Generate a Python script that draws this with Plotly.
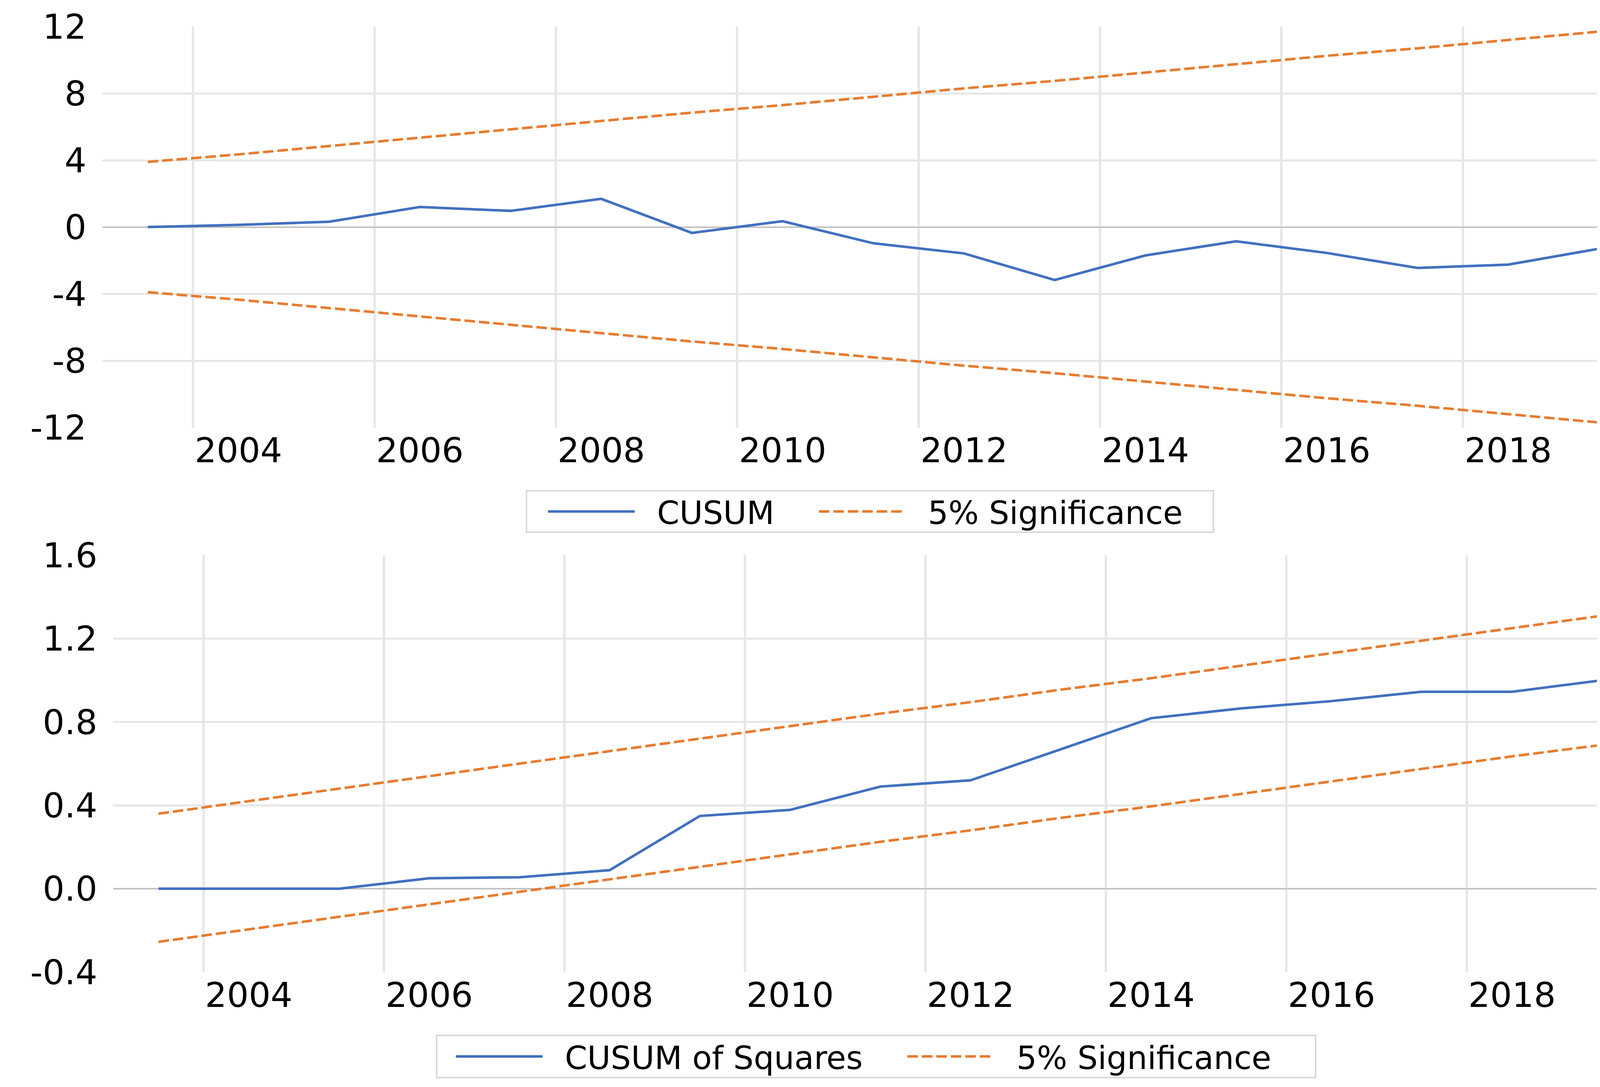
import plotly.graph_objects as go

# ---------------- data ----------------
years = list(range(2003, 2020))

cusum = [0.0, 0.13, 0.32, 1.2, 0.97, 1.69, -0.35, 0.35, -0.97, -1.58,
         -3.17, -1.70, -0.85, -1.55, -2.45, -2.25, -1.30]
cusum_upper = [3.9, 4.35, 4.85, 5.35, 5.85, 6.35, 6.85, 7.3, 7.8, 8.3,
               8.75, 9.25, 9.75, 10.25, 10.7, 11.2, 11.7]
cusum_lower = [-3.9, -4.35, -4.85, -5.35, -5.85, -6.35, -6.85, -7.3, -7.8, -8.3,
               -8.75, -9.25, -9.75, -10.25, -10.7, -11.2, -11.7]

cusumsq = [0.0, 0.0, 0.0, 0.05, 0.055, 0.089, 0.349, 0.378, 0.49, 0.52,
           0.669, 0.818, 0.865, 0.90, 0.945, 0.945, 1.0]
cusumsq_upper = [0.36, 0.42, 0.48, 0.54, 0.60, 0.66, 0.72, 0.78, 0.84, 0.895,
                 0.955, 1.01, 1.07, 1.13, 1.19, 1.25, 1.31]
cusumsq_lower = [-0.255, -0.195, -0.135, -0.075, -0.015, 0.045, 0.105, 0.165, 0.225, 0.28,
                 0.34, 0.395, 0.455, 0.515, 0.575, 0.635, 0.69]

x_tick_vals = [2004, 2006, 2008, 2010, 2012, 2014, 2016, 2018]
x_tick_text = ["2004", "2006", "2008", "2010", "2012", "2014", "2016", "2018"]
x_grid_vals = [2003.5, 2005.5, 2007.5, 2009.5, 2011.5, 2013.5, 2015.5, 2017.5]

y1_tick_vals = [-12, -8, -4, 0, 4, 8, 12]
y1_tick_text = ["-12", "-8", "-4", "0", "4", "8", "12"]
y1_grid_vals = [-8, -4, 0, 4, 8]
y2_tick_vals = [-0.4, 0.0, 0.4, 0.8, 1.2, 1.6]
y2_tick_text = ["-0.4", "0.0", "0.4", "0.8", "1.2", "1.6"]
y2_grid_vals = [0.0, 0.4, 0.8, 1.2]

name_cusum = "CUSUM"
name_cusumsq = "CUSUM of Squares"
name_sig = "5% Significance"

# ---------------- style ----------------
BLUE = "#4170BF"
ORANGE = "#E67C30"
GRID = "#e6e6e6"
ZERO = "#bfbfbf"
LEGEND_BORDER = "#d9d9d9"
FONT = "DejaVu Sans"
TICK_SIZE = 88
LEG_SIZE = 82
DASH = "27px,10px"
LW = 6.5
PAD_L = "\u00a0\u00a0"              # visual gap between legend line and its text
PAD_R = "\u00a0\u00a0\u00a0\u00a0"  # visual gap between legend entries


def leg(name, last=False):
    return PAD_L + name + ("" if last else PAD_R)


fig = go.Figure()

# top panel
fig.add_trace(go.Scatter(x=years, y=cusum, mode="lines", name=leg(name_cusum),
                         line=dict(color=BLUE, width=LW), xaxis="x", yaxis="y",
                         legend="legend"))
fig.add_trace(go.Scatter(x=years, y=cusum_upper, mode="lines", name=leg(name_sig, True),
                         line=dict(color=ORANGE, width=LW, dash=DASH), xaxis="x", yaxis="y",
                         legend="legend"))
fig.add_trace(go.Scatter(x=years, y=cusum_lower, mode="lines", name=leg(name_sig, True),
                         showlegend=False,
                         line=dict(color=ORANGE, width=LW, dash=DASH), xaxis="x", yaxis="y",
                         legend="legend"))

# bottom panel
fig.add_trace(go.Scatter(x=years, y=cusumsq, mode="lines", name=leg(name_cusumsq),
                         line=dict(color=BLUE, width=LW), xaxis="x2", yaxis="y2",
                         legend="legend2"))
fig.add_trace(go.Scatter(x=years, y=cusumsq_upper, mode="lines", name=leg(name_sig, True),
                         line=dict(color=ORANGE, width=LW, dash=DASH), xaxis="x2", yaxis="y2",
                         legend="legend2"))
fig.add_trace(go.Scatter(x=years, y=cusumsq_lower, mode="lines", name=leg(name_sig, True),
                         showlegend=False,
                         line=dict(color=ORANGE, width=LW, dash=DASH), xaxis="x2", yaxis="y2",
                         legend="legend2"))

tickfont = dict(family=FONT, size=TICK_SIZE, color="black")


def xaxis_cfg(domain, anchor):
    return dict(domain=domain, anchor=anchor, range=[2002.5, 2019.5],
                tickmode="array", tickvals=x_tick_vals, ticktext=x_tick_text,
                showgrid=False, zeroline=False, showline=False, ticks="",
                tickfont=tickfont, ticklabelstandoff=0, automargin=False,
                minor=dict(tickmode="array", tickvals=x_grid_vals, showgrid=True,
                           gridcolor=GRID, gridwidth=6, ticks=""))


def yaxis_cfg(domain, anchor, rng, tv, tt, gv):
    return dict(domain=domain, anchor=anchor, range=rng,
                tickmode="array", tickvals=tv, ticktext=tt,
                showgrid=False, zeroline=True, zerolinecolor=ZERO, zerolinewidth=3,
                showline=False, ticks="", tickfont=tickfont,
                ticklabelstandoff=40, automargin=False,
                minor=dict(tickmode="array", tickvals=gv, showgrid=True,
                           gridcolor=GRID, gridwidth=5, ticks=""))


legend_common = dict(orientation="h", xanchor="left", yanchor="middle",
                     borderwidth=0, bgcolor="rgba(0,0,0,0)",
                     font=dict(family=FONT, size=LEG_SIZE, color="black"),
                     itemwidth=222, tracegroupgap=0)

# legend frames (drawn as rectangles so their padding matches the original)
legend_frames = [
    dict(x0=0.3157, x1=0.7300, y0=0.5133, y1=0.5514),
    dict(x0=0.2615, x1=0.7917, y0=0.0115, y1=0.0503),
]
shapes = [dict(type="rect", xref="paper", yref="paper", layer="below",
               line=dict(color=LEGEND_BORDER, width=4), fillcolor="white", **f)
          for f in legend_frames]

fig.update_layout(
    width=4244, height=2782,
    margin=dict(l=0, r=0, t=0, b=0),
    paper_bgcolor="white", plot_bgcolor="white",
    xaxis=xaxis_cfg([0.0599, 0.9899], "y"),
    yaxis=yaxis_cfg([0.6096, 0.9784], "x", [-12, 12], y1_tick_vals, y1_tick_text, y1_grid_vals),
    xaxis2=xaxis_cfg([0.0665, 0.9918], "y2"),
    yaxis2=yaxis_cfg([0.1086, 0.4921], "x2", [-0.4, 1.6], y2_tick_vals, y2_tick_text, y2_grid_vals),
    legend=dict(x=0.3275, y=0.5323, **legend_common),
    legend2=dict(x=0.2719, y=0.0309, **legend_common),
    shapes=shapes,
    showlegend=True,
)

fig.write_html("out.html")
